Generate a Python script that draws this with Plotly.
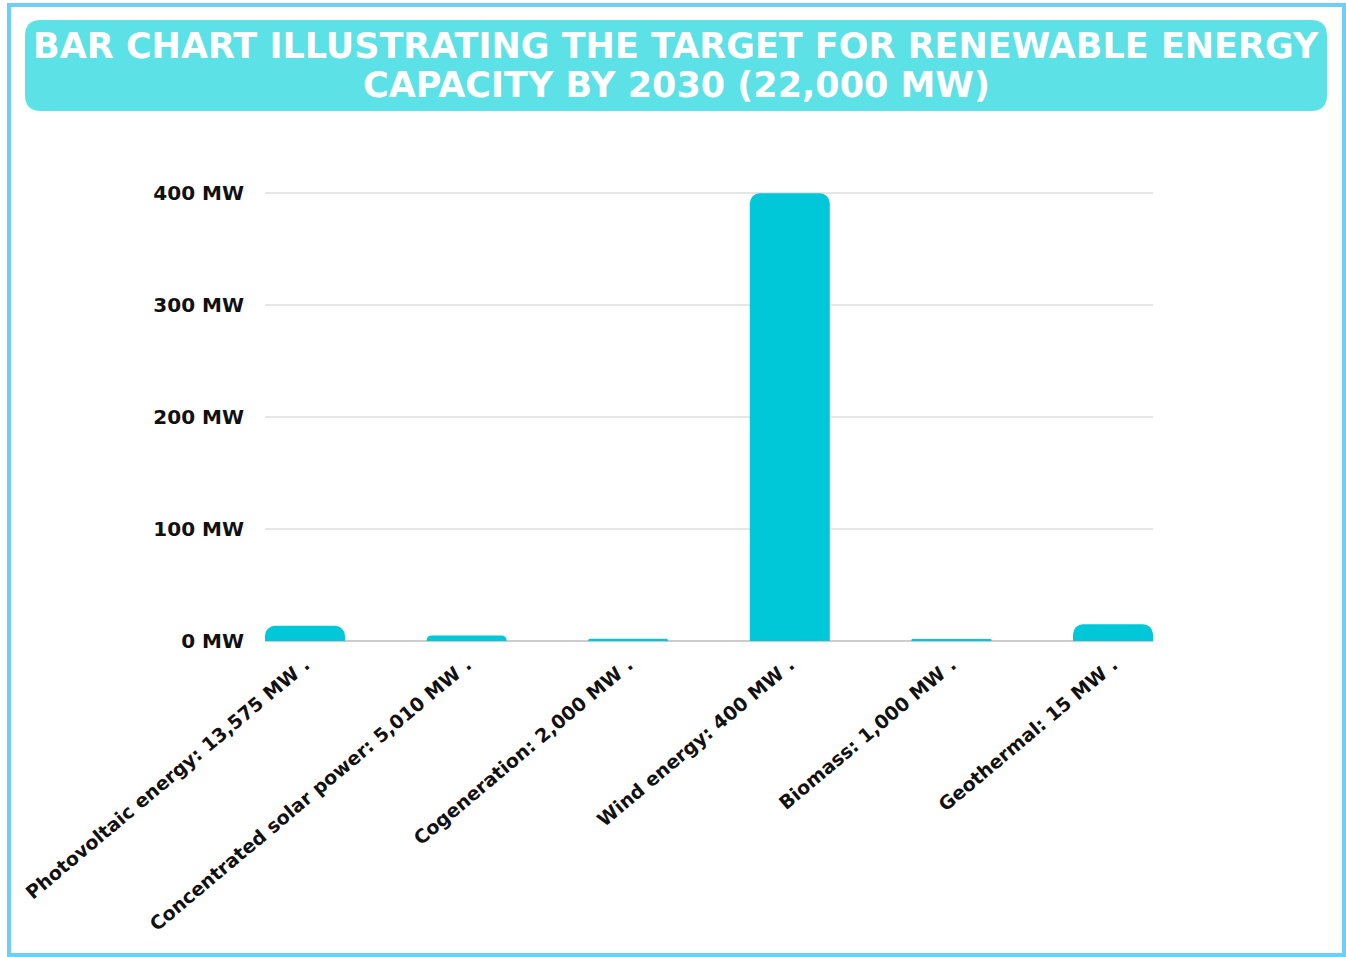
import plotly.graph_objects as go

categories = ["Photovoltaic energy", "Concentrated solar power", "Cogeneration",
              "Wind energy", "Biomass", "Geothermal"]
values = [13.575, 5.01, 2, 400, 1, 15]
tick_labels = ["Photovoltaic energy: 13,575 MW .",
               "Concentrated solar power: 5,010 MW .",
               "Cogeneration: 2,000 MW .",
               "Wind energy: 400 MW .",
               "Biomass: 1,000 MW .",
               "Geothermal: 15 MW ."]
y_ticks = [0, 100, 200, 300, 400]
y_tick_text = ["0 MW", "100 MW", "200 MW", "300 MW", "400 MW"]
title_lines = ["BAR CHART ILLUSTRATING THE TARGET FOR RENEWABLE ENERGY",
               "CAPACITY BY 2030 (22,000 MW)"]

W, H = 1346, 957
Y_MAX = 402
L, R, B = 265, 1153, 641
T = round(B - Y_MAX * (448 / 400))
FONT = "DejaVu Sans, Liberation Sans, Arial, sans-serif"


def px(x):
    return (x - L) / (R - L)


def py(y):
    return (B - y) / (B - T)


def rounded_rect(x0, y0, x1, y1, r):
    pts = [
        f"M {px(x0 + r)} {py(y0)}",
        f"L {px(x1 - r)} {py(y0)}",
        f"Q {px(x1)} {py(y0)} {px(x1)} {py(y0 + r)}",
        f"L {px(x1)} {py(y1 - r)}",
        f"Q {px(x1)} {py(y1)} {px(x1 - r)} {py(y1)}",
        f"L {px(x0 + r)} {py(y1)}",
        f"Q {px(x0)} {py(y1)} {px(x0)} {py(y1 - r)}",
        f"L {px(x0)} {py(y0 + r)}",
        f"Q {px(x0)} {py(y0)} {px(x0 + r)} {py(y0)}",
        "Z",
    ]
    return " ".join(pts)


fig = go.Figure(go.Bar(
    x=list(range(len(categories))),
    y=values,
    width=0.495,
    marker=dict(color="#00C8D8", cornerradius=10, line=dict(width=0)),
    hovertext=categories,
))

fig.update_layout(
    width=W, height=H,
    margin=dict(l=L, r=W - R, t=T, b=H - B, pad=0),
    paper_bgcolor="white", plot_bgcolor="white",
    showlegend=False,
    font=dict(family=FONT, color="#111111"),
    xaxis=dict(
        range=[-0.2475, 5.2475],
        tickmode="array", tickvals=list(range(len(categories))), ticktext=tick_labels,
        tickangle=-40,
        tickfont=dict(family=FONT, size=19, color="#111111", weight="bold"),
        showgrid=False, zeroline=False, showline=False, ticks="",
        ticklabelstandoff=8,
    ),
    yaxis=dict(
        range=[0, Y_MAX],
        tickmode="array", tickvals=y_ticks, ticktext=y_tick_text,
        tickfont=dict(family=FONT, size=20, color="#111111", weight="bold"),
        showgrid=True, gridcolor="#E6E6E6", gridwidth=2,
        zeroline=True, zerolinecolor="#CCCCCC", zerolinewidth=2,
        showline=False, ticks="", ticklabelstandoff=20,
    ),
    shapes=[
        dict(type="rect", xref="paper", yref="paper",
             x0=px(9), x1=px(1344), y0=py(955), y1=py(5),
             line=dict(color="#6DCFF6", width=4), fillcolor="rgba(0,0,0,0)", layer="above"),
        dict(type="path", xref="paper", yref="paper",
             path=rounded_rect(25, 20, 1327, 111, 16),
             fillcolor="#5CE1E6", line=dict(width=0), layer="below"),
    ],
    annotations=[
        dict(xref="paper", yref="paper", x=px(676), y=py(46),
             xanchor="center", yanchor="middle", showarrow=False,
             text=title_lines[0],
             font=dict(family=FONT, size=35, color="white", weight="bold")),
        dict(xref="paper", yref="paper", x=px(676), y=py(85),
             xanchor="center", yanchor="middle", showarrow=False,
             text=title_lines[1],
             font=dict(family=FONT, size=35, color="white", weight="bold")),
    ],
)

fig.write_html("out.html", config={"displayModeBar": False},
               post_script="document.body.style.margin='0';")
